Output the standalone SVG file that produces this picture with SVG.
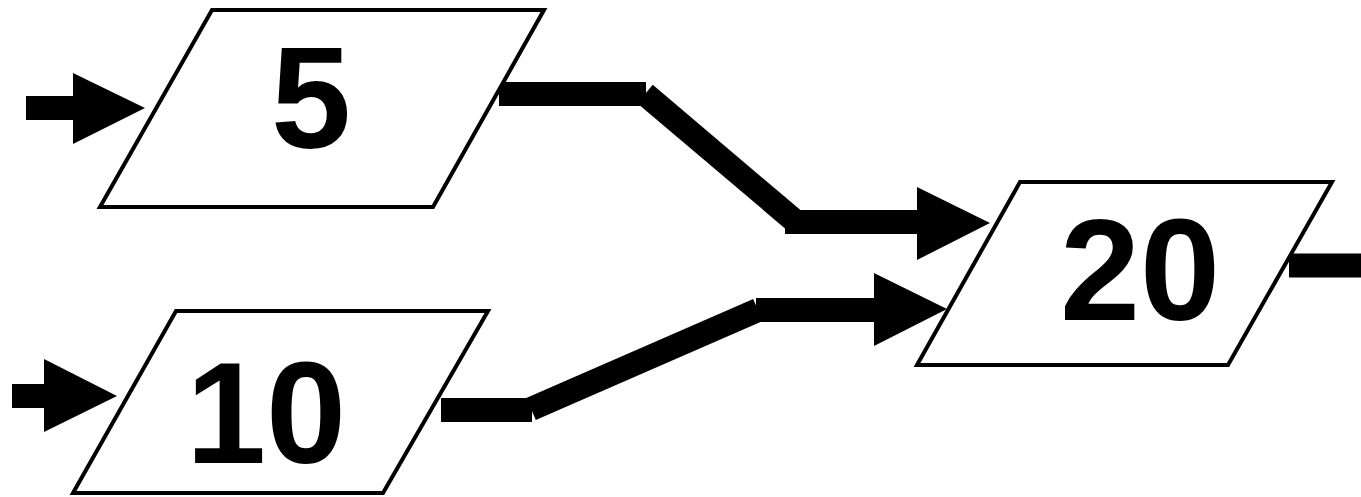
<svg xmlns="http://www.w3.org/2000/svg" width="1361" height="497" viewBox="0 0 1361 497">
<style>
.box{fill:#fff;stroke:#000;stroke-width:4;stroke-linejoin:miter}
.lbl{font-family:"Liberation Sans",Arial,sans-serif;font-weight:bold;font-size:144px;fill:#000;text-anchor:middle}
.ln{stroke:#000;stroke-width:24;stroke-linecap:butt;fill:none}
.hd{fill:#000}
</style>
<rect width="1361" height="497" fill="#fff"/>
<g id="connectors">
  <line class="ln" x1="26" y1="108" x2="74" y2="108"/>
  <polygon class="hd" points="73,73 145,108 73,144"/>
  <line class="ln" x1="12" y1="396" x2="45" y2="396"/>
  <polygon class="hd" points="44,359 117,396 44,432"/>
  <line class="ln" x1="499" y1="94" x2="646" y2="94"/>
  <line class="ln" x1="645" y1="94" x2="796" y2="222"/>
  <line class="ln" x1="785" y1="222" x2="918" y2="222"/>
  <polygon class="hd" points="917,187 990,223 917,260"/>
  <line class="ln" x1="441" y1="410" x2="532" y2="410"/>
  <line class="ln" x1="531" y1="409" x2="758" y2="310"/>
  <line class="ln" x1="756" y1="310" x2="875" y2="310"/>
  <polygon class="hd" points="874,273 947,309 874,346"/>
  <line class="ln" x1="1289" y1="265.5" x2="1361" y2="265.5"/>
</g>
<g id="node5">
  <polygon class="box" points="212,10 544,10 433,207 100,207"/>
  <text class="lbl" x="311" y="148">5</text>
</g>
<g id="node10">
  <polygon class="box" points="176,311 488,311 383,493 73,493"/>
  <text class="lbl" x="266" y="463">10</text>
</g>
<g id="node20">
  <polygon class="box" points="1020,182 1332,182 1228,365 917,365"/>
  <text class="lbl" x="1140" y="320">20</text>
</g>
</svg>
